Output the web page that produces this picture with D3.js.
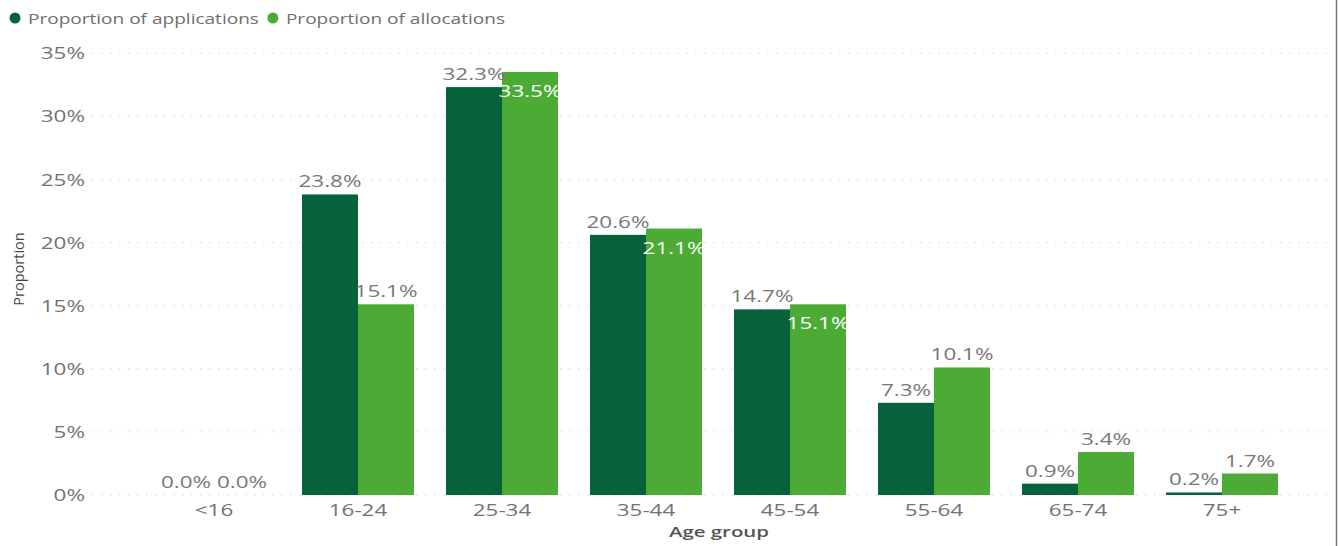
<!DOCTYPE html>
<html>
<head>
<meta charset="utf-8">
<script src="https://cdn.jsdelivr.net/npm/d3@7"></script>
<style>
  html, body { margin: 0; padding: 0; background: #fff; }
  svg { display: block; }
  text { font-family: "Open Sans", "Segoe UI", sans-serif; }
</style>
</head>
<body>
<svg id="chart" width="1338" height="546"></svg>
<script>
const categories = ["<16", "16-24", "25-34", "35-44", "45-54", "55-64", "65-74", "75+"];
const applications = [0.0, 23.8, 32.3, 20.6, 14.7, 7.3, 0.9, 0.2];
const allocations  = [0.0, 15.1, 33.5, 21.1, 15.1, 10.1, 3.4, 1.7];
const seriesNames = ["Proportion of applications", "Proportion of allocations"];
const yTicks = [0, 5, 10, 15, 20, 25, 30, 35];

const colors = ["#05623a", "#4bab35"];
const svg = d3.select("#chart");
const W = 1338, H = 546;
const SX = 1.36; // horizontal stretch of text seen in the reference

const x = d3.scaleBand().domain(categories).range([142, 1294]).paddingInner(0.222).paddingOuter(0.111);
const xs = d3.scaleBand().domain([0, 1]).range([0, x.bandwidth()]);
const y = d3.scaleLinear().domain([0, 35]).range([495, 53]);

// right border
svg.append("line").attr("x1", W - 1.5).attr("x2", W - 1.5).attr("y1", 0).attr("y2", H)
  .attr("stroke", "#777").attr("stroke-width", 1.5);

// gridlines
const grid = svg.append("g");
grid.selectAll("line").data(yTicks).join("line")
  .attr("x1", 92).attr("x2", 1334)
  .attr("y1", d => y(d)).attr("y2", d => y(d))
  .attr("stroke", "#d4d4d4").attr("stroke-width", 1).attr("stroke-dasharray", "1.5,7.5");

// y axis labels
const yAxis = d3.axisLeft(y).tickValues(yTicks).tickFormat(d => d + "%").tickSize(0).tickPadding(0);
const yg = svg.append("g").attr("transform", "translate(85,0)").call(yAxis);
yg.select(".domain").remove();
yg.selectAll("text").attr("x", 0).attr("fill", "#727272").style("font-size", "16.5px").attr("dy", "0.35em")
  .attr("transform", `scale(${SX},1)`);

// x axis labels
const xAxis = d3.axisBottom(x).tickSize(0).tickPadding(0);
const xg = svg.append("g").attr("transform", "translate(0,504)").call(xAxis);
xg.select(".domain").remove();
xg.selectAll("text").attr("fill", "#727272").style("font-size", "16.5px").attr("dy", "0.71em")
  .attr("transform", `scale(${SX},1)`);

// bars
const data = categories.map((c, i) => ({ c, vals: [applications[i], allocations[i]] }));
const groups = svg.append("g").selectAll("g").data(data).join("g")
  .attr("transform", d => `translate(${x(d.c)},0)`);
groups.selectAll("rect").data(d => d.vals.map((v, s) => ({ v, s }))).join("rect")
  .attr("x", d => xs(d.s)).attr("width", xs.bandwidth())
  .attr("y", d => y(d.v)).attr("height", d => y(0) - y(d.v))
  .attr("fill", d => colors[d.s]);

// data labels
const labelH = 18;
groups.each(function(d) {
  const g = d3.select(this);
  const [a, b] = d.vals;
  d.vals.forEach((v, s) => {
    let inside = false;
    if (s === 1 && b > a && (y(a) - y(b)) < labelH && b > 0) inside = true;
    const cx = xs(s) + xs.bandwidth() / 2;
    const cy = inside ? y(v) + 25 : y(v) - 7;
    g.append("text")
      .attr("transform", `translate(${cx},${cy}) scale(${SX},1)`)
      .attr("text-anchor", "middle")
      .attr("fill", inside ? "#ffffff" : "#777777")
      .style("font-size", "16.5px")
      .text(v.toFixed(1) + "%");
  });
});

// axis titles
svg.append("text").attr("transform", `translate(719,537) scale(${SX},1)`).attr("text-anchor", "middle")
  .attr("fill", "#555").style("font-size", "15px").style("font-weight", 600)
  .text("Age group");
svg.append("text").attr("transform", "translate(24,269) rotate(-90)").attr("text-anchor", "middle")
  .attr("fill", "#444").style("font-size", "14.5px")
  .text("Proportion");

// legend
const legend = svg.append("g");
const LSX = 1.27;
let lx = 15;
seriesNames.forEach((name, i) => {
  legend.append("circle").attr("cx", lx).attr("cy", 18).attr("r", 5.5).attr("fill", colors[i]);
  const t = legend.append("text").attr("transform", `translate(${lx + 13},23.5) scale(${LSX},1)`).attr("fill", "#6f6f6f")
    .style("font-size", "15px").text(name);
  lx += 13 + t.node().getComputedTextLength() * LSX + 14;
});
</script>
</body>
</html>
